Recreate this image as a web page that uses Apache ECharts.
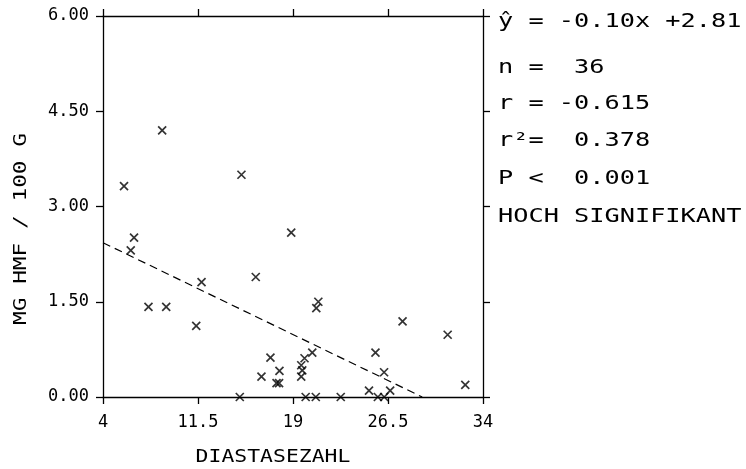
<!DOCTYPE html>
<html>
<head>
<meta charset="utf-8">
<script src="https://cdn.jsdelivr.net/npm/echarts@6/dist/echarts.min.js"></script>
<style>
html,body{margin:0;padding:0;background:#fff;}
#chart{width:746px;height:469px;}
</style>
</head>
<body>
<div id="chart"></div>
<script>
const xTicks = [4, 11.5, 19, 26.5, 34];
const yTicks = [0, 1.5, 3, 4.5, 6];
const diastase = [5.66, 8.67, 14.93, 6.45, 6.19, 7.59, 8.99, 11.36, 11.78, 16.06, 18.86, 17.22, 16.51, 17.93, 17.7, 17.9, 14.8, 21.0, 20.84, 27.65, 31.21, 32.6, 25.51, 26.19, 25.0, 26.67, 25.7, 20.52, 19.91, 19.65, 19.73, 19.65, 20.0, 20.8, 22.77, 26.2];
const hmf = [3.32, 4.20, 3.50, 2.51, 2.31, 1.42, 1.42, 1.12, 1.81, 1.89, 2.59, 0.62, 0.32, 0.41, 0.22, 0.22, 0, 1.50, 1.40, 1.19, 0.98, 0.19, 0.70, 0.39, 0.10, 0.10, 0, 0.70, 0.61, 0.50, 0.42, 0.32, 0, 0, 0, 0];
const lineX = [4, 29.2];
const lineY = [2.43, 0];
const statLines = ['ŷ = -0.10x +2.81', 'n =  36', 'r = -0.615', 'r²=  0.378', 'P <  0.001', 'HOCH SIGNIFIKANT'];
const xTitle = 'DIASTASEZAHL';
const yTitle = 'MG HMF / 100 G';

const FONT = '"DejaVu Sans Mono", monospace';
const chart = echarts.init(document.getElementById('chart'), null, {renderer: 'canvas'});

const scatterData = diastase.map((v, i) => [v, hmf[i]]);
const lineData = lineX.map((v, i) => [v, lineY[i]]);

const axisLine = {show: true, onZero: false, lineStyle: {color: '#000', width: 1.3}};
const tickStyle = {show: true, inside: false, length: 7, lineStyle: {color: '#000', width: 1.3}};

const statRowsY = [22, 68, 104, 141, 179, 217];
const graphics = statLines.map((t, i) => ({
  type: 'text', x: 498, y: statRowsY[i], scaleX: 1.33,
  style: {text: t, fontFamily: FONT, fontSize: 19, fill: '#000', align: 'left', verticalAlign: 'middle'}
}));
graphics.push({
  type: 'text', x: 273, y: 458, scaleX: 1.26,
  style: {text: xTitle, fontFamily: FONT, fontSize: 17, fill: '#000', align: 'center', verticalAlign: 'middle'}
});
graphics.push({
  type: 'text', x: 22, y: 229, rotation: Math.PI / 2, scaleX: 1.34,
  style: {text: yTitle, fontFamily: FONT, fontSize: 17, fill: '#000', align: 'center', verticalAlign: 'middle'}
});

chart.setOption({
  animation: false,
  backgroundColor: '#fff',
  grid: {left: 103, right: 263, top: 16, bottom: 72, containLabel: false},
  xAxis: [
    {type: 'value', position: 'bottom', min: 4, max: 34,
     axisLine: axisLine,
     axisTick: Object.assign({}, tickStyle, {customValues: xTicks}),
     axisLabel: {show: true, customValues: xTicks, margin: 17, fontFamily: FONT, fontSize: 17, color: '#000', formatter: v => String(v)},
     splitLine: {show: false}},
    {type: 'value', position: 'top', min: 4, max: 34,
     axisLine: axisLine,
     axisTick: Object.assign({}, tickStyle, {customValues: xTicks}),
     axisLabel: {show: false},
     splitLine: {show: false}}
  ],
  yAxis: [
    {type: 'value', position: 'left', min: 0, max: 6, interval: 1.5,
     axisLine: axisLine, axisTick: tickStyle,
     axisLabel: {show: true, margin: 14, fontFamily: FONT, fontSize: 17, color: '#000', formatter: v => v.toFixed(2)},
     splitLine: {show: false}},
    {type: 'value', position: 'right', min: 0, max: 6, interval: 1.5,
     axisLine: axisLine, axisTick: tickStyle,
     axisLabel: {show: false},
     splitLine: {show: false}}
  ],
  series: [
    {type: 'line', data: lineData, xAxisIndex: 0, yAxisIndex: 0, showSymbol: false, symbol: 'none',
     lineStyle: {color: '#000', width: 1.2, type: [8, 5]}, z: 2},
    {type: 'scatter', data: scatterData, xAxisIndex: 0, yAxisIndex: 0,
     symbol: 'path://M0,0L10,10M10,0L0,10', symbolSize: 8,
     itemStyle: {color: 'rgba(0,0,0,0)', borderColor: '#000', borderWidth: 1.7}, z: 3}
  ],
  graphic: graphics
});
</script>
</body>
</html>
